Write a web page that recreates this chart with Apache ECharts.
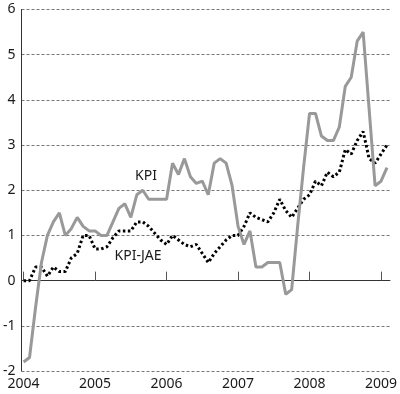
<!DOCTYPE html>
<html><head><meta charset="utf-8">
<script src="https://cdn.jsdelivr.net/npm/echarts@6/dist/echarts.min.js"></script>
<style>html,body{margin:0;padding:0;background:#fff}#c{width:400px;height:394px}</style>
</head><body><div id="c"></div>
<script>
// Monthly data, Jan 2004 (index 0) .. Feb 2009 (index 61)
const yearLabels = ['2004', '2005', '2006', '2007', '2008', '2009'];
const seriesNames = ['KPI', 'KPI-JAE'];
const kpi = [
  -1.8, -1.7, -0.6, 0.4, 1.0, 1.3, 1.5, 1.0, 1.15, 1.4, 1.2, 1.1,
  1.1, 1.0, 1.0, 1.3, 1.6, 1.7, 1.4, 1.9, 2.0, 1.8, 1.8, 1.8,
  1.8, 2.6, 2.35, 2.7, 2.3, 2.15, 2.2, 1.9, 2.6, 2.7, 2.6, 2.1,
  1.2, 0.8, 1.1, 0.3, 0.3, 0.4, 0.4, 0.4, -0.3, -0.2, 1.2, 2.5,
  3.7, 3.7, 3.2, 3.1, 3.1, 3.4, 4.3, 4.5, 5.3, 5.5, 3.8, 2.1,
  2.2, 2.5
];
const kpiJae = [
  0.0, 0.0, 0.3, 0.3, 0.1, 0.3, 0.2, 0.2, 0.5, 0.6, 1.0, 1.0,
  0.7, 0.7, 0.75, 0.95, 1.1, 1.1, 1.1, 1.3, 1.3, 1.2, 1.05, 0.9,
  0.8, 1.0, 0.9, 0.8, 0.75, 0.8, 0.6, 0.4, 0.6, 0.75, 0.9, 1.0,
  1.0, 1.2, 1.5, 1.4, 1.35, 1.3, 1.5, 1.8, 1.55, 1.4, 1.6, 1.8,
  1.9, 2.2, 2.1, 2.4, 2.3, 2.4, 2.9, 2.8, 3.1, 3.3, 2.7, 2.6,
  2.8, 3.0
];
const yMin = -2, yMax = 6, yStep = 1;

const FONT = '"Noto Sans", "DejaVu Sans", sans-serif';
const chart = echarts.init(document.getElementById('c'), null, { renderer: 'canvas' });
const toPairs = arr => arr.map((v, i) => [i, v]);
const tickVals = yearLabels.map((y, i) => i * 12);

const option = {
  animation: false,
  backgroundColor: '#fff',
  grid: { left: 20, right: 5, top: 9.5, bottom: 23, containLabel: false },
  xAxis: [
    {
      type: 'value', min: -0.35, max: 61.5, position: 'bottom',
      axisLine: { show: false, onZero: false },
      axisTick: { show: false },
      splitLine: { show: false },
      axisLabel: {
        customValues: tickVals,
        formatter: v => yearLabels[Math.round(v / 12)],
        fontFamily: FONT, fontSize: 14, color: '#1a1a1a', margin: 6
      }
    },
    {
      type: 'value', min: -0.35, max: 61.5, position: 'bottom',
      axisLine: { show: true, onZero: true, lineStyle: { color: '#333', width: 1 } },
      axisTick: { show: true, inside: true, length: 9, customValues: tickVals, lineStyle: { color: '#555', width: 1 } },
      axisLabel: { show: false },
      splitLine: { show: false }
    }
  ],
  yAxis: {
    type: 'value', min: yMin, max: yMax, interval: yStep,
    axisLine: { show: true, onZero: false, lineStyle: { color: '#333', width: 1 } },
    axisTick: { show: false },
    axisLabel: { fontFamily: FONT, fontSize: 14, color: '#1a1a1a', margin: 6 },
    splitLine: { show: true, lineStyle: { type: [3, 2], color: '#777', width: 1 } }
  },
  series: [
    {
      name: seriesNames[1], type: 'line', xAxisIndex: 0, data: toPairs(kpiJae),
      showSymbol: false, symbol: 'none',
      lineStyle: { color: '#000', width: 3, type: [2.5, 2.5] }
    },
    {
      name: seriesNames[0], type: 'line', xAxisIndex: 0, data: toPairs(kpi),
      showSymbol: false, symbol: 'none',
      lineStyle: { color: '#999', width: 3 }
    }
  ],
  graphic: [
    { type: 'text', x: 146, y: 176, style: { text: seriesNames[0], fill: '#1a1a1a', font: '14px ' + FONT, align: 'center', verticalAlign: 'middle' } },
    { type: 'text', x: 138, y: 256, style: { text: seriesNames[1], fill: '#1a1a1a', font: '14px ' + FONT, align: 'center', verticalAlign: 'middle' } }
  ]
};
chart.setOption(option);
</script>
</body></html>
